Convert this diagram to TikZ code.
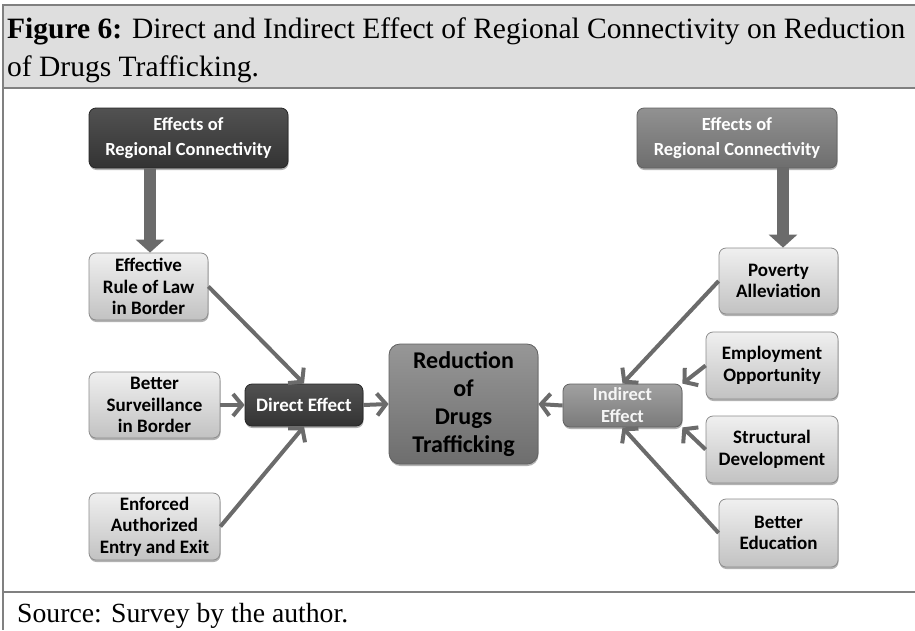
\documentclass[tikz,border=0pt]{standalone}
\usepackage{fontspec}
\setmainfont{Liberation Serif}
\newfontfamily\boxfont{Carlito}
\usetikzlibrary{arrows.meta,shadows}
\definecolor{headgray}{gray}{0.87}
\definecolor{framegray}{gray}{0.5}
\definecolor{arrowgray}{gray}{0.42}
\definecolor{lighttop}{gray}{0.94}
\definecolor{lightbot}{gray}{0.76}
\definecolor{lightedge}{gray}{0.55}
\definecolor{darktop}{gray}{0.32}
\definecolor{darkbot}{gray}{0.20}
\definecolor{darkedge}{gray}{0.15}
\definecolor{midtop}{gray}{0.57}
\definecolor{midbot}{gray}{0.43}
\definecolor{midedge}{gray}{0.38}
\definecolor{indtop}{gray}{0.63}
\definecolor{indbot}{gray}{0.48}
\tikzset{
  basebox/.style={rectangle, rounded corners=7pt, line width=0.8pt, inner sep=0pt, align=center,
    drop shadow={shadow xshift=0.5pt, shadow yshift=-2pt, opacity=0.3, fill=black}},
  lightbox/.style={basebox, draw=lightedge, top color=lighttop, bottom color=lightbot, text=black,
    font=\boxfont\bfseries\fontsize{19}{21.5}\selectfont},
  darkbox/.style={basebox, draw=darkedge, top color=darktop, bottom color=darkbot, text=white,
    font=\boxfont\bfseries\fontsize{19}{21.5}\selectfont},
  midbox/.style={basebox, draw=midedge, top color=midtop, bottom color=midbot, text=white,
    font=\boxfont\bfseries\fontsize{18.5}{25}\selectfont},
  headbox/.style={darkbox, font=\boxfont\bfseries\fontsize{18.5}{25}\selectfont},
  redbox/.style={basebox, rounded corners=11pt, draw=midedge, top color=midtop!95!white, bottom color=midbot, text=black,
    font=\boxfont\bfseries\fontsize{24}{28}\selectfont},
  indbox/.style={basebox, draw=midedge, top color=indtop, bottom color=indbot, text=white!92!gray,
    font=\boxfont\bfseries\fontsize{18.5}{22}\selectfont},
  thinarrow/.style={draw=arrowgray, line width=4pt, -{Straight Barb[length=9pt,width=22pt]}},
  bigarrow/.style={draw=arrowgray, line width=12pt, -{Triangle[length=13pt,width=28pt]}},
  frameline/.style={draw=framegray, line width=1.5pt}
}
\begin{document}
\begin{tikzpicture}[x=1pt,y=-1pt]
\useasboundingbox (0,0) rectangle (915,630);
% header and frame
\fill[headgray] (3,5) rectangle (915,88);
\draw[frameline] (915,5) -- (3,5) -- (3,630);
\draw[frameline] (3,88) -- (915,88);
\draw[frameline] (3,592) -- (915,592);
\node[anchor=base west, inner sep=0pt] (cap) at (7,38) {\resizebox{898pt}{!}{\fontsize{26}{34}\selectfont
  \begin{tabular}[t]{@{}l@{}}\textbf{Figure 6:} Direct and Indirect Effect of Regional Connectivity on Reduction\\
  of Drugs Trafficking.\end{tabular}}};
\node[anchor=base west, inner sep=0pt] (src) at (17,622) {\resizebox{331pt}{!}{\fontsize{22}{26}\selectfont Source: Survey by the author.}};

% nodes
\node[headbox, minimum width=199pt, minimum height=60pt] (eff1) at (188.5,138) {Effects of\\Regional Connectivity};
\node[midbox, minimum width=200pt, minimum height=60pt] (eff2) at (737,138) {Effects of\\Regional Connectivity};
\node[lightbox, minimum width=119pt, minimum height=67pt] (rule) at (148.5,286.5) {Effective\\Rule of Law\\in Border};
\node[lightbox, minimum width=131pt, minimum height=66pt] (surv) at (154.5,405) {Better\\Surveillance\\in Border};
\node[lightbox, minimum width=131pt, minimum height=67pt] (enf) at (154.5,526.5) {Enforced\\Authorized\\Entry and Exit};
\node[darkbox, minimum width=118pt, minimum height=42pt] (direct) at (304,405) {Direct Effect};
\node[redbox, minimum width=149pt, minimum height=120pt] (red) at (463.5,404) {Reduction\\of\\Drugs\\Trafficking};
\node[indbox, minimum width=119pt, minimum height=43pt] (ind) at (622.5,405.5) {Indirect\\Effect};
\node[lightbox, minimum width=119pt, minimum height=66pt] (pov) at (778.5,281) {Poverty\\Alleviation};
\node[lightbox, minimum width=132pt, minimum height=67pt] (emp) at (772,365.5) {Employment\\Opportunity};
\node[lightbox, minimum width=132pt, minimum height=67pt] (str) at (772,449.5) {Structural\\Development};
\node[lightbox, minimum width=119pt, minimum height=68pt] (edu) at (778.5,533) {Better\\Education};

% connectors
\draw[bigarrow] ([xshift=1.5pt]eff1.south -| rule.north) -- ([xshift=1.5pt]rule.north);
\draw[bigarrow] ([xshift=4.5pt]eff2.south -| pov.north) -- ([xshift=4.5pt]pov.north);
\draw[thinarrow] (rule.east) -- (direct.north);
\draw[thinarrow] (surv.east) -- (direct.west);
\draw[thinarrow] (enf.east) -- (direct.south);
\draw[thinarrow] (direct.east) -- (red.west);
\draw[thinarrow] (ind.west) -- (red.east);
\draw[thinarrow] (pov.west) -- (ind.north);
\draw[thinarrow] (emp.west) -- (ind.north east);
\draw[thinarrow] (str.west) -- (ind.south east);
\draw[thinarrow] (edu.west) -- (ind.south);
\end{tikzpicture}
\end{document}
